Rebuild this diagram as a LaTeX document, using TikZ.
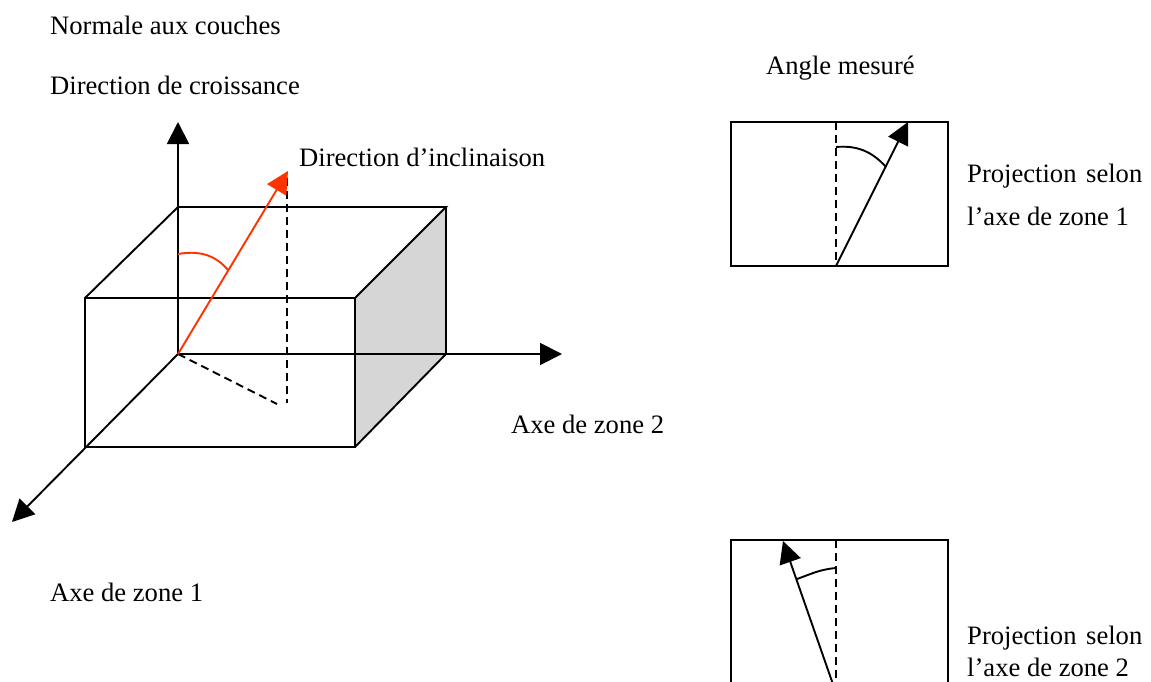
\documentclass[tikz,border=0pt]{standalone}
\usepackage{fontspec}
\setmainfont{Liberation Serif}
\usepackage{xcolor}
\usetikzlibrary{arrows.meta,positioning}
\definecolor{redarrow}{HTML}{FF3300}
\definecolor{sideface}{HTML}{D6D6D6}
\tikzset{
  edge/.style={line width=1.9pt},
  axis/.style={edge,-{Triangle[length=22pt,width=22pt]}},
  tilt/.style={line width=1.9pt,redarrow,-{Triangle[length=22pt,width=22pt]}},
  proj/.style={line width=1.9pt,dash pattern=on 8pt off 5pt},
  label/.style={anchor=base west,inner sep=0pt,font=\fontsize{26.6}{30}\selectfont}
}
\begin{document}
\begin{tikzpicture}[x=1pt,y=-1pt]
  \useasboundingbox (0,0) rectangle (1151,681);
  \clip (0,0) rectangle (1151,681);
  \fill[white] (0,0) rectangle (1151,681);

  % block
  \coordinate (o) at (178,354);
  \coordinate (bl) at (178,207);
  \coordinate (br) at (446,207);
  \coordinate (or) at (446,354);
  \coordinate (fa) at (85,298);
  \coordinate (fb) at (355,298);
  \coordinate (fc) at (355,447);
  \coordinate (fd) at (85,447);
  \fill[sideface] (fb) -- (br) -- (or) -- (fc) -- cycle;
  \draw[edge] (fa) -- (fb) -- (fc) -- (fd) -- cycle;
  \draw[edge] (fa) -- (bl) -- (br) -- (fb);
  \draw[edge] (br) -- (or) -- (fc);

  % axes
  \coordinate (zend) at (178,122);
  \coordinate (xend) at (562,354);
  \coordinate (yend) at (12,522);
  \foreach \u in {zend,xend,yend}
    \draw[axis] (o) -- (\u);

  % inclined direction
  \coordinate (tip) at (288,171);
  \coordinate (foot) at (287,403);
  \coordinate (footb) at (277,404);
  \coordinate (arca) at (178,254);
  \coordinate (arcb) at (228,270);
  \draw[proj] (287,178) -- (foot);
  \draw[proj] (o) -- (footb);
  \draw[tilt] (o) -- (tip);
  \draw[line width=1.9pt,redarrow] (arca) to[out=10,in=130] (arcb);

  % first projection
  \coordinate (pa) at (731,122);
  \coordinate (pb) at (948,266);
  \coordinate (pm) at (836,266);
  \coordinate (pt) at (836,122);
  \coordinate (pe) at (908,122);
  \draw[edge] (pa) rectangle (pb);
  \draw[proj] (pt) -- (pm);
  \draw[axis] (pm) -- (pe);
  \draw[edge] (836,147) to[out=5,in=132] (886,167);

  % second projection
  \coordinate (qa) at (731,540);
  \coordinate (qb) at (948,540);
  \coordinate (qm) at (836,690);
  \coordinate (qt) at (836,540);
  \coordinate (qs) at (835,690);
  \coordinate (qe) at (783,541);
  \draw[edge] (731,690) -- (qa) -- (qb) -- (948,690);
  \draw[proj] (qt) -- (qm);
  \draw[axis] (qs) -- (qe);
  \draw[edge] (836,568) to[out=185,in=20] (797,579);

  % texts
  \node[label] (normale) at (50,34) {Normale aux couches};
  \node[label] (croissance) at (50,94) {Direction de croissance};
  \node[label] (inclinaison) at (299,166) {Direction d’inclinaison};
  \node[label] (angle) at (766,74) {Angle mesuré};
  \node[label] (zonedeux) at (511,433) {Axe de zone 2};
  \node[label] (zoneun) at (50,601) {Axe de zone 1};
  \node[label] (proja) at (967,182) {Projection\hspace{3pt} selon};
  \node[label] (projb) at (967,225) {l’axe de zone 1};
  \node[label] (projc) at (967,644) {Projection\hspace{3pt} selon};
  \node[label] (projd) at (967,676) {l’axe de zone 2};
\end{tikzpicture}
\end{document}
